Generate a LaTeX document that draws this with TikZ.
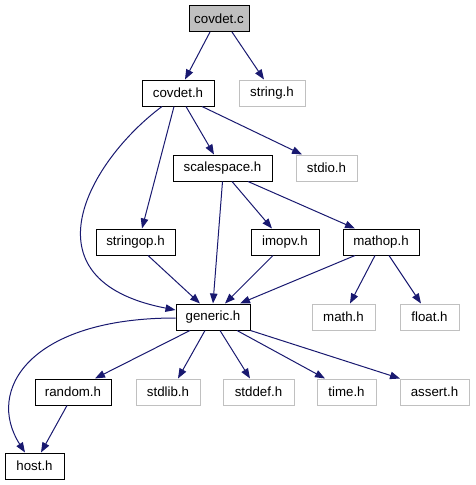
\documentclass[tikz,border=0pt]{standalone}
\usepackage{fontspec}
\setmainfont{Liberation Sans}
\usetikzlibrary{arrows.meta}
\definecolor{edgeblue}{HTML}{191970}
\definecolor{boxgray}{HTML}{BFBFBF}
\definecolor{extgray}{HTML}{C0C0C0}
\tikzset{
  base/.style={rectangle, inner sep=0pt, minimum height=26pt, line width=1pt,
    font=\fontsize{13.3}{16}\selectfont},
  doc/.style={base, draw=black, fill=white},
  cur/.style={base, draw=black, fill=boxgray},
  ext/.style={base, draw=extgray, fill=white},
  dep/.style={draw=edgeblue, line width=1pt, -{Triangle[length=10pt,width=7.5pt]}}
}
\begin{document}
\begin{tikzpicture}[x=1pt,y=-1pt]
\useasboundingbox (0,0) rectangle (475,485);
\node[cur, minimum width=60pt] (covdetc) at (219,18.5) {covdet.c};
\node[ext, minimum width=66pt] (string) at (272,93) {string.h};
\node[doc, minimum width=72pt] (covdeth) at (178,93) {covdet.h};
\node[ext, minimum width=61pt] (stdio) at (326.5,168) {stdio.h};
\node[doc, minimum width=99pt] (scalespace) at (222.5,168) {scalespace.h};
\node[doc, minimum width=79pt] (stringop) at (135.5,242) {stringop.h};
\node[doc, minimum width=68pt] (imopv) at (285,242) {imopv.h};
\node[doc, minimum width=76pt] (mathop) at (381,242) {mathop.h};
\node[doc, minimum width=74pt] (generic) at (213,317) {generic.h};
\node[ext, minimum width=63pt] (math) at (343.5,317) {math.h};
\node[ext, minimum width=59pt] (float) at (429.5,317) {float.h};
\node[doc, minimum width=76pt] (random) at (73,392) {random.h};
\node[ext, minimum width=64pt] (stdlib) at (168,392) {stdlib.h};
\node[ext, minimum width=71pt] (stddef) at (258.5,392) {stddef.h};
\node[ext, minimum width=59pt] (time) at (346.5,392) {time.h};
\node[ext, minimum width=69pt] (assert) at (434.5,392) {assert.h};
\node[doc, minimum width=59pt] (host) at (34.5,466) {host.h};

\draw[dep] ([xshift=-9pt]covdetc.south) -- ([xshift=7pt]covdeth.north);
\draw[dep] ([xshift=13pt]covdetc.south) -- ([xshift=-8pt]string.north);
\draw[dep] ([xshift=-4pt]covdeth.south) -- ([xshift=6.5pt]stringop.north);
\draw[dep] ([xshift=8pt]covdeth.south) -- ([xshift=-8.5pt]scalespace.north);
\draw[dep] ([xshift=24pt]covdeth.south) -- ([xshift=-24.5pt]stdio.north);
\draw[dep] ([xshift=-16pt]covdeth.south) .. controls (90,160) and (20,280) .. ([yshift=7pt]generic.west);
\draw[dep] (scalespace.south) -- (generic.north);
\draw[dep] ([xshift=9.5pt]scalespace.south) -- ([xshift=-13pt]imopv.north);
\draw[dep] ([xshift=25.5pt]scalespace.south) -- ([xshift=-26pt]mathop.north);
\draw[dep] ([xshift=12.5pt]stringop.south) -- ([xshift=-13pt]generic.north);
\draw[dep] ([xshift=-12pt]imopv.south) -- ([xshift=12pt]generic.north);
\draw[dep] ([xshift=-26pt]mathop.south) -- ([xshift=27pt]generic.north);
\draw[dep] ([xshift=-6pt]mathop.south) -- ([xshift=6.5pt]math.north);
\draw[dep] ([xshift=8pt]mathop.south) -- ([xshift=-8.5pt]float.north);
\draw[dep] ([yshift=-1pt]generic.west) .. controls (30,318) and (-15,390) .. ([xshift=-9.5pt]host.north);
\draw[dep] ([xshift=-23pt]generic.south) -- ([xshift=22pt]random.north);
\draw[dep] ([xshift=-8pt]generic.south) -- ([xshift=10pt]stdlib.north);
\draw[dep] ([xshift=7pt]generic.south) -- ([xshift=-8.5pt]stddef.north);
\draw[dep] ([xshift=24pt]generic.south) -- ([xshift=-21.5pt]time.north);
\draw[dep] (generic.south east) -- ([xshift=-34.5pt]assert.north);
\draw[dep] ([xshift=-6pt]random.south) -- ([xshift=6.5pt]host.north);
\end{tikzpicture}
\end{document}
